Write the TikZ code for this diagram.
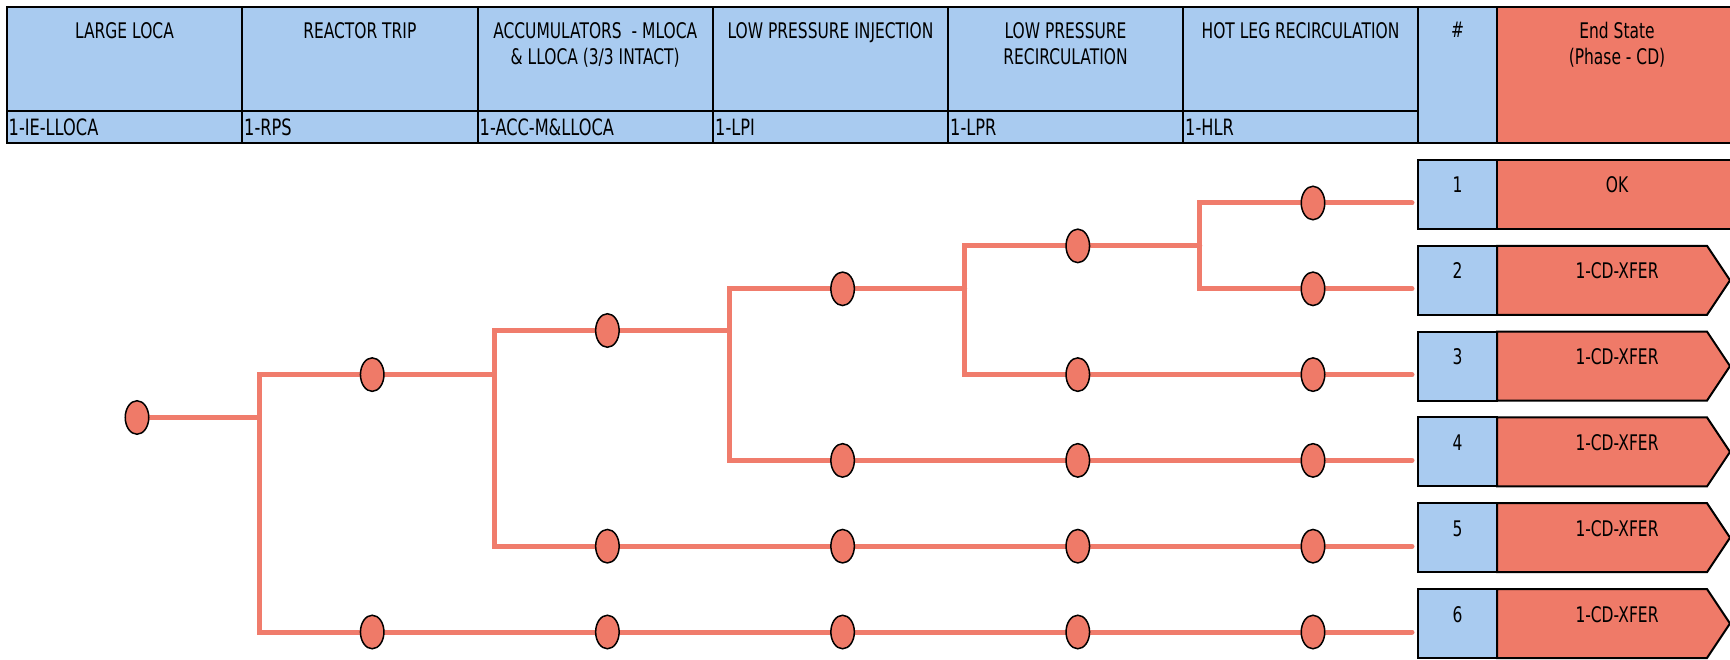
\documentclass[tikz,border=0pt]{standalone}
\usepackage{fontspec}
\setmainfont{DejaVu Sans}[FakeStretch=0.72]
\usetikzlibrary{shapes.geometric}
\definecolor{hblue}{RGB}{169,203,240}
\definecolor{salm}{RGB}{239,122,104}
\definecolor{tline}{RGB}{240,124,108}
\pgfdeclarelayer{bg}
\pgfsetlayers{bg,main}
\begin{document}
\begin{tikzpicture}[x=1pt,y=-1pt,
  cell/.style={draw=black,line width=2pt,fill=hblue},
  endcell/.style={draw=black,line width=2pt,fill=salm},
  ttl/.style={anchor=north,inner sep=0pt,align=center,font=\fontsize{21.5}{26}\selectfont},
  sub/.style={anchor=base west,inner sep=0pt,font=\fontsize{22.5}{26}\selectfont},
  lbl/.style={anchor=base,inner sep=0pt,font=\fontsize{21.5}{26}\selectfont},
  ev/.style={ellipse,draw=black,line width=1.5pt,fill=salm,minimum width=23.5pt,minimum height=33.5pt,inner sep=0pt},
  tree/.style={draw=tline,line width=5pt,line cap=round,line join=miter},
]
\useasboundingbox (0,0) rectangle (1730,660);
% header cells
\draw[cell] (7,7) rectangle (242,111);
\draw[cell] (242,7) rectangle (477.5,111);
\draw[cell] (477.5,7) rectangle (713,111);
\draw[cell] (713,7) rectangle (948,111);
\draw[cell] (948,7) rectangle (1183,111);
\draw[cell] (1183,7) rectangle (1418,111);
\draw[cell] (7,111) rectangle (242,143);
\draw[cell] (242,111) rectangle (477.5,143);
\draw[cell] (477.5,111) rectangle (713,143);
\draw[cell] (713,111) rectangle (948,143);
\draw[cell] (948,111) rectangle (1183,143);
\draw[cell] (1183,111) rectangle (1418,143);
\draw[cell] (1418,7) rectangle (1497,143);
\draw[endcell] (1497,7) rectangle (1745,143);
% header texts
\node[ttl] (t1) at (124.5,22) {LARGE LOCA};
\node[ttl] (t2) at (359.8,22) {REACTOR TRIP};
\node[ttl] (t3) at (595.2,22) {ACCUMULATORS ~- MLOCA\\\& LLOCA (3/3 INTACT)};
\node[ttl] (t4) at (830.5,22) {LOW PRESSURE INJECTION};
\node[ttl] (t5) at (1065.5,22) {LOW PRESSURE\\RECIRCULATION};
\node[ttl] (t6) at (1300.5,22) {HOT LEG RECIRCULATION};
\node[ttl] (t7) at (1457.5,22) {\#};
\node[ttl] (t8) at (1617,22) {End State\\(Phase - CD)};
\node[sub] (u1) at (8.5,136) {1-IE-LLOCA};
\node[sub] (u2) at (244,136) {1-RPS};
\node[sub] (u3) at (479.5,136) {1-ACC-M\&LLOCA};
\node[sub] (u4) at (715,136) {1-LPI};
\node[sub] (u5) at (950,136) {1-LPR};
\node[sub] (u6) at (1185,136) {1-HLR};
% end state rows
\draw[cell] (1418,160) rectangle (1497,229);
\draw[endcell] (1497,160) rectangle (1745,229);
\foreach \t in {245.8,331.6,417.4,503.2,589} {
  \draw[cell] (1418,\t) rectangle (1497,\t+69);
  \draw[endcell] (1497,\t) -- (1707,\t) -- (1730,\t+34.5) -- (1707,\t+69) -- (1497,\t+69) -- cycle;
}
\node[lbl] (k1) at (1457.5,193) {1};
\node[lbl] (s1) at (1617,193) {OK};
\node[lbl] (k2) at (1457.5,278.8) {2};
\node[lbl] (s2) at (1617,278.8) {1-CD-XFER};
\node[lbl] (k3) at (1457.5,364.6) {3};
\node[lbl] (s3) at (1617,364.6) {1-CD-XFER};
\node[lbl] (k4) at (1457.5,450.4) {4};
\node[lbl] (s4) at (1617,450.4) {1-CD-XFER};
\node[lbl] (k5) at (1457.5,536.2) {5};
\node[lbl] (s5) at (1617,536.2) {1-CD-XFER};
\node[lbl] (k6) at (1457.5,622) {6};
\node[lbl] (s6) at (1617,622) {1-CD-XFER};
% event nodes
\node[ev] (ie) at (137,417.5) {};
\node[ev] (rps) at (372.2,374.6) {};
\node[ev] (rps6) at (372.2,632) {};
\node[ev] (acc) at (607.4,330.5) {};
\node[ev] (acc5) at (607.4,546.2) {};
\node[ev] (acc6) at (607.4,632) {};
\node[ev] (lpi) at (842.6,288.8) {};
\node[ev] (lpi4) at (842.6,460.4) {};
\node[ev] (lpi5) at (842.6,546.2) {};
\node[ev] (lpi6) at (842.6,632) {};
\node[ev] (lpr) at (1077.8,245.9) {};
\node[ev] (lpr3) at (1077.8,374.6) {};
\node[ev] (lpr4) at (1077.8,460.4) {};
\node[ev] (lpr5) at (1077.8,546.2) {};
\node[ev] (lpr6) at (1077.8,632) {};
\node[ev] (hlr1) at (1313,203) {};
\node[ev] (hlr2) at (1313,288.8) {};
\node[ev] (hlr3) at (1313,374.6) {};
\node[ev] (hlr4) at (1313,460.4) {};
\node[ev] (hlr5) at (1313,546.2) {};
\node[ev] (hlr6) at (1313,632) {};
\coordinate (j1) at (259,417.5);
\coordinate (j2) at (494.2,374.6);
\coordinate (j3) at (729.4,330.5);
\coordinate (j4) at (964.6,288.8);
\coordinate (j5) at (1199.8,245.9);
\coordinate (e1) at (1412,203);
\coordinate (e2) at (1412,288.8);
\coordinate (e3) at (1412,374.6);
\coordinate (e4) at (1412,460.4);
\coordinate (e5) at (1412,546.2);
\coordinate (e6) at (1412,632);
\begin{pgfonlayer}{bg}
\draw[tree] (ie.center) -- (j1);
\draw[tree] (rps.center) -| (j1) |- (rps6.center);
\draw[tree] (rps.center) -- (j2);
\draw[tree] (acc.center) -| (j2) |- (acc5.center);
\draw[tree] (rps6.center) -- (acc6.center) -- (lpi6.center) -- (lpr6.center) -- (hlr6.center) -- (e6);
\draw[tree] (acc.center) -- (j3);
\draw[tree] (lpi.center) -| (j3) |- (lpi4.center);
\draw[tree] (acc5.center) -- (lpi5.center) -- (lpr5.center) -- (hlr5.center) -- (e5);
\draw[tree] (lpi.center) -- (j4);
\draw[tree] (lpr.center) -| (j4) |- (lpr3.center);
\draw[tree] (lpi4.center) -- (lpr4.center) -- (hlr4.center) -- (e4);
\draw[tree] (lpr.center) -- (j5);
\draw[tree] (hlr1.center) -| (j5) |- (hlr2.center);
\draw[tree] (lpr3.center) -- (hlr3.center) -- (e3);
\draw[tree] (hlr1.center) -- (e1);
\draw[tree] (hlr2.center) -- (e2);
\end{pgfonlayer}
\end{tikzpicture}
\end{document}
